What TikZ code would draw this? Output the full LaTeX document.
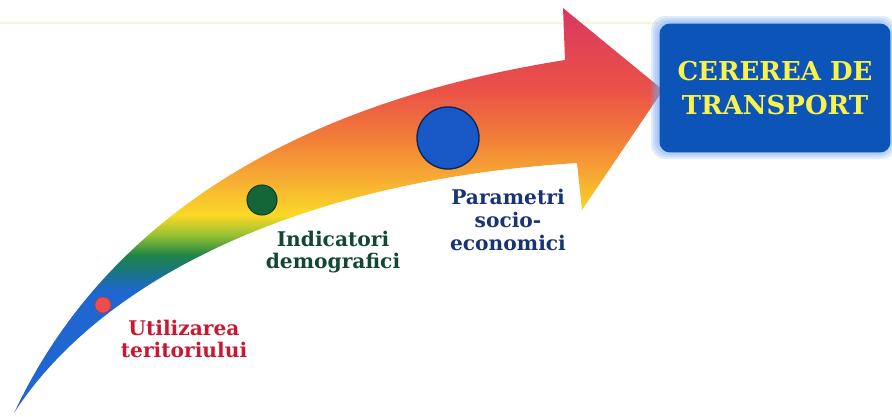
\documentclass[tikz,border=0pt]{standalone}
\usepackage{fontspec}
\setmainfont{DejaVu Serif}

\definecolor{arrowviolet}{rgb}{0.50,0.35,0.70}
\definecolor{arrowblue}{rgb}{0.12,0.40,0.82}
\definecolor{arrowteal}{rgb}{0.10,0.46,0.50}
\definecolor{arrowgreen}{rgb}{0.12,0.52,0.28}
\definecolor{arrowlime}{rgb}{0.60,0.76,0.20}
\definecolor{arrowyellow}{rgb}{0.98,0.85,0.15}
\definecolor{arrowamber}{rgb}{0.97,0.68,0.20}
\definecolor{arroworange}{rgb}{0.95,0.50,0.22}
\definecolor{arrowred}{rgb}{0.92,0.32,0.28}
\definecolor{arrowcrimson}{rgb}{0.85,0.22,0.38}
\definecolor{dotred}{rgb}{0.93,0.30,0.30}
\definecolor{dotgreen}{rgb}{0.08,0.40,0.22}
\definecolor{dotblue}{rgb}{0.10,0.35,0.78}
\definecolor{landred}{rgb}{0.78,0.10,0.20}
\definecolor{popgreen}{rgb}{0.08,0.28,0.20}
\definecolor{econblue}{rgb}{0.10,0.20,0.45}
\definecolor{boxblue}{rgb}{0.05,0.33,0.72}
\definecolor{boxglow}{rgb}{0.45,0.65,0.95}
\definecolor{titleyellow}{rgb}{0.98,0.95,0.30}
\definecolor{topline}{rgb}{0.96,0.97,0.82}

\pgfdeclareverticalshading{arrowfill}{100bp}{color(0bp)=(arrowviolet); color(25bp)=(arrowviolet); color(27bp)=(arrowblue); color(40bp)=(arrowblue); color(42.5bp)=(arrowteal); color(44.5bp)=(arrowgreen); color(47bp)=(arrowlime); color(49.4bp)=(arrowyellow); color(53.8bp)=(arrowamber); color(58.7bp)=(arroworange); color(64.9bp)=(arrowred); color(75bp)=(arrowcrimson); color(100bp)=(arrowcrimson)}

\begin{document}
\begin{tikzpicture}[x=0.02cm, y=-0.02cm,
    dotlabel/.style={font=\bfseries\fontsize{11.5}{13}\selectfont, align=center, inner sep=0pt},
    titlebox/.style={fill=boxblue, rounded corners=6pt, minimum width=4.62cm, minimum height=2.58cm,
        text=titleyellow, font=\bfseries\fontsize{14.8}{19.8}\selectfont, align=center}]
    \useasboundingbox (0,0) rectangle (892,416);

    % Faint line at the top
    \draw[topline, line width=1pt] (0,23) -- (658,23);

    % Draw the arrow
    \shade[shading=arrowfill] (14,413) .. controls (100,230) and (280,105) .. (565,60)
        -- (563,8) -- (663,90) -- (582,210) -- (577,163)
        .. controls (300,180) and (100,280) .. (14,413) -- cycle;

    % Dots on the arrow
    \filldraw[fill=dotred, draw=dotred!75!black, line width=0.3pt] (103,305) circle (8);
    \filldraw[fill=dotgreen, draw=dotgreen!60!black, line width=0.6pt] (262,200) circle (15);
    \filldraw[fill=dotblue, draw=dotblue!45!black, line width=0.8pt] (448,138) circle (31);

    % Labels
    \node[dotlabel, text=landred] (land) at (184,339) {Utilizarea\\teritoriului};
    \node[dotlabel, text=popgreen] (pop) at (333,252) {Indicatori\\demografici};
    \node[dotlabel, text=econblue] (econ) at (508,220) {Parametri\\socio-\\economici};

    % Glow and box
    \foreach \g in {7,5,3,1}
        \fill[boxglow, opacity=0.22, rounded corners=8pt] (658-\g,23-\g) rectangle (889+\g,152+\g);
    \node[titlebox] (demand) at (775,88) {CEREREA DE\\TRANSPORT};
\end{tikzpicture}
\end{document}
